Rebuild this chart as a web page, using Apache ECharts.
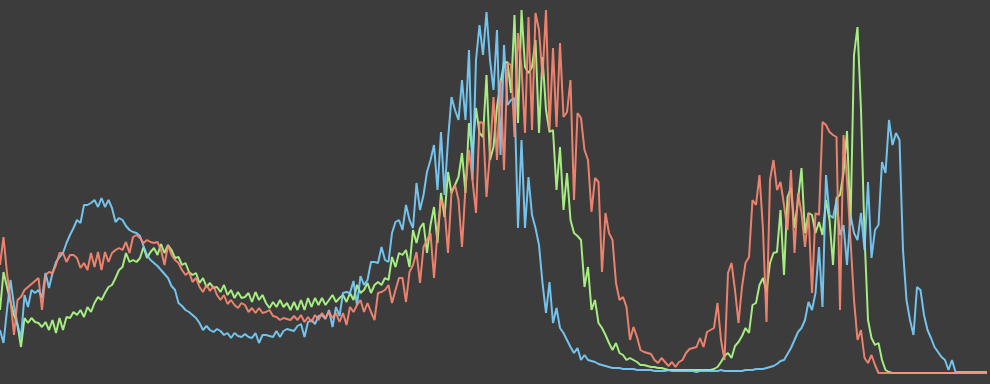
<!DOCTYPE html>
<html>
<head>
<meta charset="utf-8">
<script src="https://cdn.jsdelivr.net/npm/echarts@6/dist/echarts.min.js"></script>
<style>
html,body{margin:0;padding:0;background:#3c3c3c;}
#chart{width:990px;height:384px;}
</style>
</head>
<body>
<div id="chart"></div>
<script>
const blueValues = [
44,31,64,94,69,49,36,79,67,84,
81,84,76,101,86,101,112,117,121,131,
139,146,154,151,169,169,171,174,167,176,
167,174,166,152,156,154,148,144,142,141,
138,128,119,114,111,108,104,100,96,88,
84,71,68,64,62,59,56,51,44,48,
44,42,45,43,39,41,36,41,38,37,
40,37,36,41,31,39,39,38,37,43,
37,43,45,44,43,48,50,37,52,54,
50,58,59,55,64,47,67,58,81,82,
81,93,69,98,89,94,112,112,111,127,
114,112,141,152,154,144,169,154,146,191,
164,179,202,214,229,184,242,179,234,277,
264,254,294,254,324,194,314,349,319,362,
314,284,344,219,329,269,274,276,146,234,
146,197,159,146,129,91,61,92,51,66,
46,41,34,27,21,26,14,19,14,13,
12,10,9,8,7,6,6,6,5,5,
5,5,4,4,4,4,4,3,3,3,
3,4,3,3,3,3,3,3,3,2,
3,3,3,3,3,3,4,3,3,3,
3,3,3,4,4,4,5,5,5,6,
7,8,10,13,14,20,26,34,42,46,
54,72,64,81,127,67,199,159,156,174,
139,149,109,159,141,134,161,124,192,116,
144,149,212,201,254,229,241,234,124,74,
54,39,87,84,59,44,36,27,22,17,
14,4,14,2,2,2,2,2,2,2,
2,2,2
];
const redValues = [
109,137,101,74,39,74,77,84,87,90,
93,96,64,99,102,101,109,121,121,112,
119,119,116,106,111,104,121,107,122,104,
122,112,121,124,126,124,132,121,137,139,
136,131,134,132,131,132,124,109,129,119,
114,111,104,99,102,92,96,87,82,89,
83,88,79,74,79,70,74,69,66,71,
69,62,66,61,66,61,62,64,58,57,
54,56,55,54,58,54,59,52,57,52,
59,54,61,56,62,56,61,52,61,49,
67,62,69,74,62,71,62,54,81,82,
84,89,71,84,96,96,72,102,109,122,
91,127,134,141,96,142,174,166,121,182,
189,174,127,187,224,194,161,252,251,177,
221,277,214,294,204,311,309,237,341,307,
241,357,244,361,344,297,364,244,326,247,
331,257,262,294,174,261,256,224,214,162,
196,192,102,161,141,134,91,74,77,67,
34,47,37,24,22,21,20,14,11,16,
12,8,12,7,12,14,21,25,26,27,
36,27,42,44,46,71,34,14,101,111,
84,51,87,111,117,174,169,199,144,52,
194,214,184,192,169,144,204,121,181,161,
127,161,81,161,159,252,249,242,239,237,
64,239,194,134,74,34,44,16,11,19,
9,1,1,1,1,1,1,1,1,1,
1,1,1,1,1,1,1,1,1,1,
1,1,1,1,1,1,1,1,1,1,
1,1,1
];
const greenValues = [
64,102,87,72,59,49,27,56,51,56,
52,51,47,52,44,54,41,56,44,57,
56,62,59,64,57,67,62,71,77,74,
81,87,89,96,104,107,121,112,114,112,
116,127,116,122,126,119,130,121,129,124,
116,117,109,111,102,99,101,91,96,87,
91,86,87,82,89,79,84,76,82,76,
77,81,72,82,74,79,71,66,72,67,
74,67,71,64,72,64,74,64,76,67,
76,69,76,69,74,79,72,76,79,72,
81,74,89,81,84,91,81,89,92,89,
96,94,117,107,121,119,124,107,144,131,
146,151,121,149,167,131,181,157,202,181,
189,197,221,181,251,221,266,241,237,299,
214,227,267,291,311,312,281,359,251,364,
307,301,307,334,241,317,264,242,244,184,
227,164,201,154,141,138,134,87,107,64,
74,51,46,39,31,24,31,21,19,14,
16,14,12,9,9,8,7,7,6,6,
5,4,4,4,4,4,4,4,4,4,
4,4,4,4,5,7,12,18,21,16,
28,32,38,46,41,69,71,89,96,82,
111,121,122,164,99,177,186,146,174,206,
141,161,159,141,152,139,174,154,109,176,
179,201,243,149,319,347,264,139,54,36,
29,31,14,4,2,1,1,1,1,1,
1,1,1,1,1,1,1,1,1,1,
1,1,1,1,1,1,1,1,1,1,
1,1,1
];
const categories = blueValues.map(function (_, i) { return i; });

const chart = echarts.init(document.getElementById('chart'));
function lineSeries(name, data, color) {
  return {
    name: name,
    type: 'line',
    data: data,
    showSymbol: false,
    symbol: 'none',
    smooth: false,
    lineStyle: { width: 2, color: color, opacity: 0.9 },
    emphasis: { disabled: true }
  };
}
chart.setOption({
  backgroundColor: '#3c3c3c',
  animation: false,
  grid: { left: 0, right: 3, top: 10, bottom: 10 },
  xAxis: { type: 'category', data: categories, boundaryGap: false, show: false },
  yAxis: { type: 'value', min: 0, max: 364, show: false },
  series: [
    lineSeries('green', greenValues, '#b0ff88'),
    lineSeries('blue', blueValues, '#7ad2ff'),
    lineSeries('red', redValues, '#ff8a72')
  ]
});
</script>
</body>
</html>
